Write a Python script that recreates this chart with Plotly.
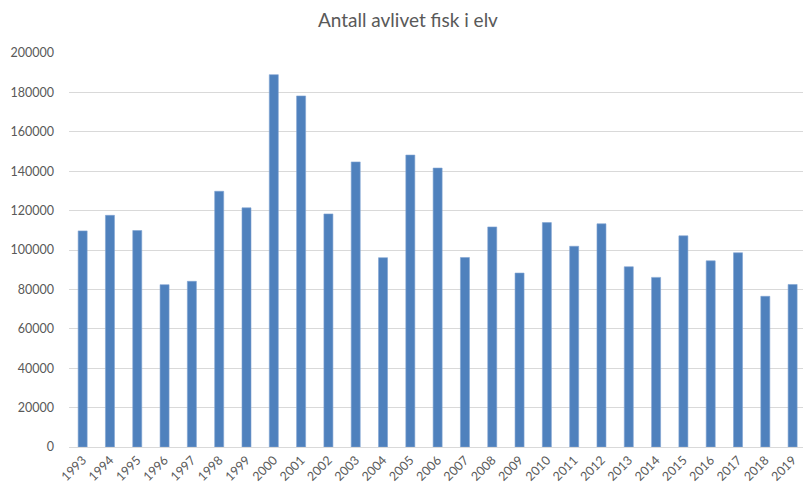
import plotly.graph_objects as go

years = [str(y) for y in range(1993, 2020)]
values = [109700, 117600, 109900, 82400, 84100, 129800, 121400, 189000, 178200, 118300,
          144700, 96100, 148200, 141600, 96200, 111700, 88300, 113900, 101900, 113300,
          91500, 86100, 107200, 94500, 98600, 76500, 82500]
title_text = "Antall avlivet fisk i elv"
y_ticks = [0, 20000, 40000, 60000, 80000, 100000, 120000, 140000, 160000, 180000, 200000]

fig = go.Figure(go.Bar(
    x=list(range(len(years))), y=values,
    marker=dict(color="#4F81BD", line=dict(color="#7FA3D1", width=0.6)),
    width=0.33,
))

font_family = "Lato, Open Sans, sans-serif"
fig.update_layout(
    width=803, height=486,
    margin=dict(l=69, r=0, t=53, b=39),
    paper_bgcolor="white", plot_bgcolor="white",
    title=dict(text=title_text, x=0.508, xref="container", xanchor="center",
               y=0.958, yref="container", yanchor="middle",
               font=dict(family=font_family, size=19, color="#595959")),
    showlegend=False,
    font=dict(family=font_family, size=12, color="#595959"),
)
fig.update_xaxes(
    tickmode="array", tickvals=list(range(len(years))), ticktext=years,
    tickangle=-45, range=[-0.5, 26.38], showgrid=False,
    showline=True, linecolor="#d9d9d9", linewidth=1,
    ticks="", automargin=False, tickfont=dict(size=12.5, color="#595959"),
)
fig.update_yaxes(
    range=[0, 200000], tickvals=y_ticks, ticktext=[str(v) for v in y_ticks],
    showgrid=True, gridcolor="#d9d9d9", gridwidth=1, zeroline=False,
    ticks="", ticklabelstandoff=14, automargin=False,
    tickfont=dict(size=12.5, color="#595959"),
)
fig.write_html("out.html", config={"displayModeBar": False},
               post_script="document.body.style.margin='0';document.body.style.overflow='hidden';")
